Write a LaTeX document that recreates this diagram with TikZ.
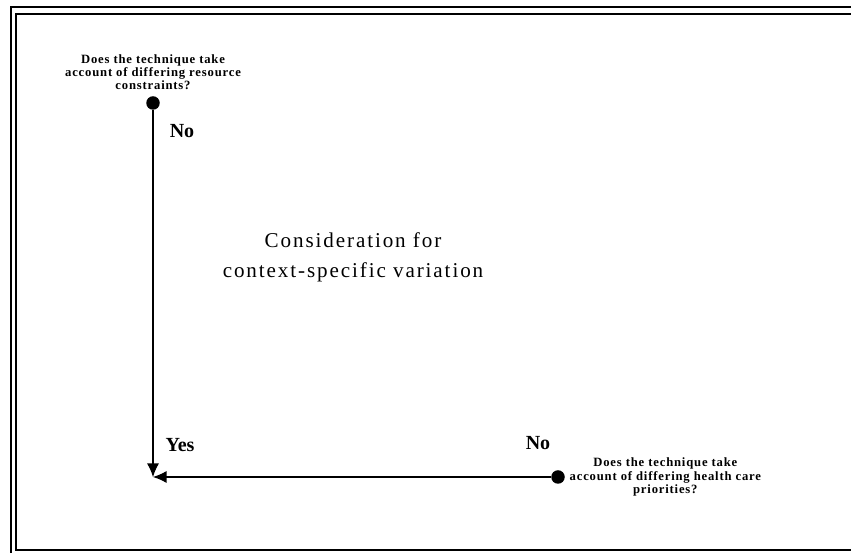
\documentclass[tikz,border=0pt]{standalone}
\usepackage{fontspec}
\setmainfont{Liberation Serif}
\usetikzlibrary{positioning}
\usetikzlibrary{arrows.meta}

\tikzset{
  dot/.style={circle,fill=black,inner sep=0pt,minimum size=0.45cm},
  question/.style={font=\fontsize{12}{12.6}\selectfont\bfseries\addfontfeature{LetterSpace=6.5},align=center,inner sep=0pt},
  answer/.style={font=\fontsize{19}{20}\selectfont\bfseries,inner sep=0pt},
  title/.style={font=\fontsize{20}{28.5}\selectfont\addfontfeature{LetterSpace=9},align=center,inner sep=0pt},
  flow/.style={line width=1.1pt,-{Latex[length=0.45cm,width=0.4cm]}},
  frame/.style={line width=1.4pt}
}

\begin{document}
\begin{tikzpicture}
\useasboundingbox (0,0) rectangle (28.367,18.433);
% double frame, cut off at right and bottom
\draw[frame] (0.367,-1) -- (0.367,18.2) -- (29,18.2);
\draw[frame] (29,0.1) -- (0.533,0.1) -- (0.533,17.967) -- (29,17.967);

\node[dot] (vdot) at (5.1,15.0) {};
\node[dot] (hdot) at (18.6,2.533) {};
\coordinate (corner) at (vdot |- hdot);
\draw[flow] (vdot) -- (corner);
\draw[flow] (hdot) -- (corner);

\node[question,above=0.2cm of vdot] (vq) {Does the technique take\\account of differing resource\\constraints?};
\node[question,right=0.15cm of hdot] (hq) {Does the technique take\\account of differing health care\\priorities?};

\node[answer] (vno) at (6.067,14.067) {No};
\node[answer] (yes) at (6.0,3.6) {Yes};
\node[answer] (hno) at (17.933,3.667) {No};

\node[title] (theme) at (11.767,9.867) {Consideration for\\context-specific variation};
\end{tikzpicture}
\end{document}
